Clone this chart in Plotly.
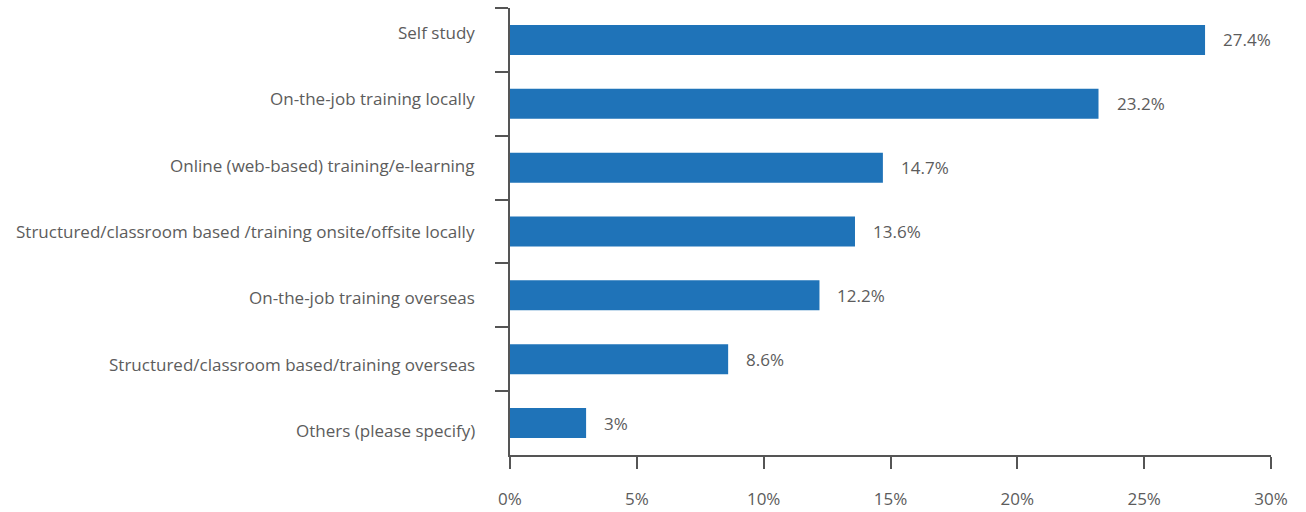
import plotly.graph_objects as go

categories = [
    "Self study",
    "On-the-job training locally",
    "Online (web-based) training/e-learning",
    "Structured/classroom based /training onsite/offsite locally",
    "On-the-job training overseas",
    "Structured/classroom based/training overseas",
    "Others (please specify)",
]
values = [27.4, 23.2, 14.7, 13.6, 12.2, 8.6, 3]
value_labels = ["27.4%", "23.2%", "14.7%", "13.6%", "12.2%", "8.6%", "3%"]
x_ticks = [0, 5, 10, 15, 20, 25, 30]
x_tick_labels = ["0%", "5%", "10%", "15%", "20%", "25%", "30%"]

BAR = "#1f73b8"
AXIS = "#555555"
TEXT = "#5c5c5c"
FONT = "Open Sans"
SIZE = 17

fig = go.Figure(
    go.Bar(
        x=values,
        y=categories,
        orientation="h",
        marker=dict(color=BAR, line=dict(width=0)),
        width=0.47,
        hoverinfo="skip",
    )
)

# value labels to the right of each bar
for cat, val, lab in zip(categories, values, value_labels):
    fig.add_annotation(
        x=val, y=cat, text=lab, showarrow=False,
        xanchor="left", yanchor="middle", xshift=16,
        font=dict(family=FONT, size=SIZE, color=TEXT),
    )

# category labels, spread slightly wider than the rows
n = len(categories)
for i, cat in enumerate(categories):
    fig.add_annotation(
        x=0, y=cat, xref="x", yref="y", text=cat, showarrow=False,
        xanchor="right", yanchor="middle", xshift=-33,
        yshift=((n - 1) / 2 - i) * 2.4,
        font=dict(family=FONT, size=SIZE, color=TEXT),
    )

fig.update_layout(
    width=1306, height=512,
    margin=dict(l=510, r=35, t=8, b=57, autoexpand=False),
    paper_bgcolor="white", plot_bgcolor="white",
    showlegend=False,
    font=dict(family=FONT, size=SIZE, color=TEXT),
    xaxis=dict(
        range=[0, 30], tickvals=x_ticks, ticktext=x_tick_labels,
        showgrid=False, zeroline=False,
        showline=True, linecolor=AXIS, linewidth=2,
        ticks="outside", ticklen=12, tickwidth=2, tickcolor=AXIS,
        ticklabelstandoff=16,
        tickfont=dict(family=FONT, size=SIZE, color=TEXT),
        automargin=False,
        fixedrange=True,
    ),
    yaxis=dict(
        type="category", categoryorder="array", categoryarray=categories,
        autorange="reversed",
        showgrid=False, zeroline=False,
        showline=True, linecolor=AXIS, linewidth=2,
        ticks="outside", tickson="boundaries", ticklen=13, tickwidth=2, tickcolor=AXIS,
        showticklabels=False,
        automargin=False,
        fixedrange=True,
    ),
)

fig.write_html("out.html")
